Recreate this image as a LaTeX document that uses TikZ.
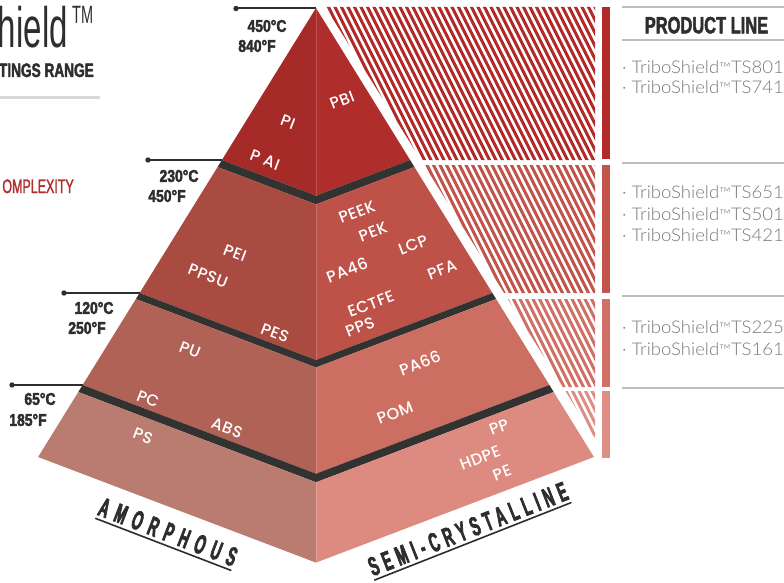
\documentclass[tikz,border=0pt]{standalone}
\usepackage{fontspec}
\IfFontExistsTF{Lato Light}{\setmainfont[FakeStretch=1.06]{Lato Light}}{\setmainfont[FakeStretch=1.06]{Lato}}
\newfontfamily\condb[FakeStretch=0.7,FakeBold=2]{Liberation Sans Bold}
\newfontfamily\condr[FakeStretch=0.64,FakeBold=1.5]{Liberation Sans}
\newfontfamily\condl[FakeStretch=0.58]{Liberation Sans}
\newfontfamily\tempf[FakeStretch=0.82,FakeBold=2.5]{Liberation Sans Bold}
\newfontfamily\amorf[FakeStretch=0.5,FakeBold=2.5,LetterSpace=26]{Liberation Sans Bold}
\newfontfamily\semif[FakeStretch=0.5,FakeBold=2.5,LetterSpace=20]{Liberation Sans Bold}
\IfFontExistsTF{Poppins Medium}{\newfontfamily\popf[LetterSpace=3]{Poppins Medium}}{\newfontfamily\popf[FakeBold=2.5,LetterSpace=3]{Poppins}}
\newcommand\tmk{{\fontsize{15}{15}\selectfont ™}}
\definecolor{tAl}{HTML}{A62A27}\definecolor{tAr}{HTML}{AF2D2A}
\definecolor{tBl}{HTML}{A94B41}\definecolor{tBr}{HTML}{BF5248}
\definecolor{tCl}{HTML}{B06257}\definecolor{tCr}{HTML}{CC6E62}
\definecolor{tDl}{HTML}{BA7C71}\definecolor{tDr}{HTML}{DD8B80}
\definecolor{bandc}{HTML}{323331}
\definecolor{hA}{HTML}{B22B29}\definecolor{hB}{HTML}{C2544B}
\definecolor{hC}{HTML}{D07066}\definecolor{hD}{HTML}{DE8E84}
\definecolor{dark}{HTML}{2E2E2E}
\definecolor{ruleg}{HTML}{BEBEBE}
\definecolor{itemg}{HTML}{7A7A7A}
\definecolor{redt}{HTML}{B0302E}
\begin{document}
\begin{tikzpicture}[x=1pt,y=-1pt,
  lab/.style={text=white,inner sep=0,font=\popf\fontsize{16}{16}\selectfont},
  labl/.style={lab,rotate=-21},
  labr/.style={lab,rotate=21},
  temp/.style={text=dark,inner sep=0,font=\tempf\fontsize{17}{17}\selectfont},
  templine/.style={draw=dark,line width=2pt},
  item/.style={anchor=base west,inner sep=0,text=itemg,font=\fontsize{17.5}{18}\selectfont},
  prule/.style={draw=ruleg,line width=1.4pt},
  stripe/.style={line width=3pt}]
\useasboundingbox (0,0) rectangle (784,583);
\fill[white] (0,0) rectangle (784,583);

% ---- title block
\node[anchor=base east,inner sep=0,text=dark,font=\condl\fontsize{57}{57}\selectfont] (title) at (68,48) {hield};
\node[anchor=north west,inner sep=0,text=dark,font=\condl\fontsize{25}{25}\selectfont] (tm) at (72,6) {TM};
\node[anchor=base east,inner sep=0,text=dark,font=\condb\fontsize{19.5}{20}\selectfont] (range) at (94,77) {TINGS RANGE};
\coordinate (tl1) at (0,97.5); \coordinate (tl2) at (100,97.5);
\draw[draw=ruleg!60,line width=2.5pt] (tl1) -- (tl2);
\node[anchor=base east,inner sep=0,text=redt,font=\condr\fontsize{19.5}{20}\selectfont] (cplx) at (74,193) {OMPLEXITY};

% ---- hatch sections
\begin{scope}
\clip (325.4,7) -- (595,7) -- (595,160) -- (421,160) -- cycle;
\foreach \a in {0,6.5,...,620} \draw[stripe,hA] (\a,0) -- ++(250,500);
\end{scope}
\begin{scope}
\clip (424.1,165) -- (595,165) -- (595,293) -- (504.1,293) -- cycle;
\foreach \a in {0,6.5,...,620} \draw[stripe,hB] (\a,0) -- ++(250,500);
\end{scope}
\begin{scope}
\clip (507.9,299) -- (595,299) -- (595,387) -- (562.9,387) -- cycle;
\foreach \a in {0,6.5,...,620} \draw[stripe,hC] (\a,0) -- ++(250,500);
\end{scope}
\begin{scope}
\clip (565.4,391) -- (595,391) -- (595,437) -- (594.1,437) -- cycle;
\foreach \a in {0,6.5,...,620} \draw[stripe,hD] (\a,0) -- ++(250,500);
\end{scope}

% ---- bars
\fill[hA] (602,7) rectangle (610,159);
\fill[hB] (602,165) rectangle (610,293);
\fill[hC] (602,299) rectangle (610,387);
\fill[hD] (602,391) rectangle (610,458);

% ---- pyramid
\fill[tAl] (316,8) -- (221.9,160) -- (316,195.75) -- cycle;
\fill[tAr] (316,8) -- (316,195.75) -- (410.1,160) -- cycle;
\fill[bandc] (221.9,160) -- (316,195.75) -- (410.1,160) -- (414.4,167) -- (316,204.4) -- (217.6,167) -- cycle;
\fill[tBl] (217.6,167) -- (316,204.4) -- (316,360) -- (139.6,293) -- cycle;
\fill[tBr] (316,204.4) -- (414.4,167) -- (492.4,293) -- (316,360) -- cycle;
\fill[bandc] (139.6,293) -- (316,360) -- (492.4,293) -- (496.1,299) -- (316,367.5) -- (135.9,299) -- cycle;
\fill[tCl] (135.9,299) -- (316,367.5) -- (316,473.7) -- (82.6,385) -- cycle;
\fill[tCr] (316,367.5) -- (496.1,299) -- (549.4,385) -- (316,473.7) -- cycle;
\fill[bandc] (82.6,385) -- (316,473.7) -- (549.4,385) -- (553.7,392) -- (316,482.3) -- (78.3,392) -- cycle;
\fill[tDl] (78.3,392) -- (316,482.3) -- (316,562.6) -- (38.1,457) -- cycle;
\fill[tDr] (316,482.3) -- (553.7,392) -- (593.9,457) -- (316,562.6) -- cycle;
\foreach \ya/\yb in {8/195.75,204.4/360,367.5/473.7,482.3/562.6}
  \draw[white,opacity=0.18,line width=0.7pt] (316,\ya) -- (316,\yb);

% ---- temperature markers
\coordinate (d1) at (236,8.5); \coordinate (e1) at (316,8.5);
\coordinate (d2) at (148,160); \coordinate (e2) at (222,160);
\coordinate (d3) at (64,293); \coordinate (e3) at (140,293);
\coordinate (d4) at (12,385); \coordinate (e4) at (83,385);
\foreach \i in {1,2,3,4} {
  \draw[templine] (d\i) -- (e\i);
  \fill[dark] (d\i) circle (2.7);
}
\node[temp] (c1) at (267,26) {450°C};
\node[temp] (f1) at (257,46) {840°F};
\node[temp] (c2) at (179,176) {230°C};
\node[temp] (f2) at (167,196) {450°F};
\node[temp] (c3) at (94,308) {120°C};
\node[temp] (f3) at (87,328) {250°F};
\node[temp] (c4) at (40,399) {65°C};
\node[temp] (f4) at (28,420) {185°F};

% ---- material labels
\node[labl] (pi) at (288,122) {PI};
\node[labl] (pai) at (265,160) {P AI};
\node[labr] (pbi) at (342,100) {PBI};
\node[labl] (pei) at (235,253) {PEI};
\node[labl] (ppsu) at (208,276) {PPSU};
\node[labl] (pes) at (275,333) {PES};
\node[labl] (pu) at (190,350) {PU};
\node[labl] (pc) at (148,399) {PC};
\node[labl] (abs) at (227,428) {ABS};
\node[labl] (ps) at (143,436) {PS};
\node[labr] (peek) at (357,212) {PEEK};
\node[labr] (pek) at (373,232) {PEK};
\node[labr] (lcp) at (413,245) {LCP};
\node[labr] (pa46) at (347,270) {PA46};
\node[labr] (pfa) at (442,270) {PFA};
\node[labr] (ectfe) at (371,304) {ECTFE};
\node[labr] (pps) at (360,327) {PPS};
\node[labr] (pa66) at (420,363) {PA66};
\node[labr] (pom) at (395,413) {POM};
\node[labr] (pp) at (499,427) {PP};
\node[labr] (hdpe) at (480,458) {HDPE};
\node[labr] (pe) at (502,473) {PE};

% ---- bottom labels
\node[rotate=-21,inner xsep=0,inner ysep=3.5pt,text=dark,font=\amorf\fontsize{27}{27}\selectfont] (amor) at (168,532) {AMORPHOUS};
\draw[dark,line width=1.6pt] (amor.south west) -- (amor.south east);
\node[rotate=21.5,inner xsep=0,inner ysep=3.5pt,text=dark,font=\semif\fontsize{27}{27}\selectfont] (semi) at (468,529) {SEMI-CRYSTALLINE};
\draw[dark,line width=1.6pt] (semi.south west) -- (semi.south east);

% ---- product line column
\foreach \y [count=\k] in {7,40,163,296,388} {
  \coordinate (ra\k) at (622,\y); \coordinate (rb\k) at (784,\y);
  \draw[prule] (ra\k) -- (rb\k);
}
\node[anchor=base,inner sep=0,text=dark,font=\condb\fontsize{23.5}{24}\selectfont] (pl) at (706.5,33.3) {PRODUCT LINE};
\node[item] (i1) at (622,73.3) {· TriboShield\tmk TS801};
\node[item] (i2) at (622,93.5) {· TriboShield\tmk TS741};
\node[item] (i3) at (622,198.3) {· TriboShield\tmk TS651};
\node[item] (i4) at (622,220) {· TriboShield\tmk TS501};
\node[item] (i5) at (622,241.7) {· TriboShield\tmk TS421};
\node[item] (i6) at (622,333.3) {· TriboShield\tmk TS225};
\node[item] (i7) at (622,355) {· TriboShield\tmk TS161};
\end{tikzpicture}
\end{document}
